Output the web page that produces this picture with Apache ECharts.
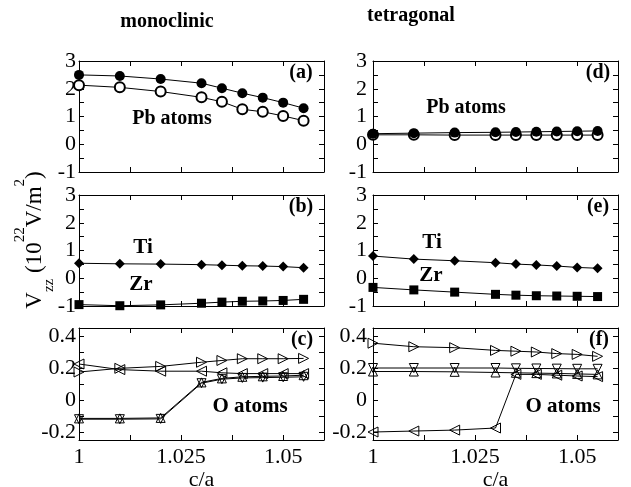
<!DOCTYPE html>
<html>
<head>
<meta charset="utf-8">
<script src="https://cdn.jsdelivr.net/npm/echarts@6.0.0/dist/echarts.min.js"></script>
<style>html,body{margin:0;padding:0;background:#fff}#chart{width:631px;height:487px}</style>
</head>
<body>
<div id="chart"></div>
<script>
const cOverA = [1, 1.01, 1.02, 1.03, 1.035, 1.04, 1.045, 1.05, 1.055];
const xTicks = [1, 1.0125, 1.025, 1.0375, 1.05];
const xTickLabels = [1, 1.025, 1.05];
const bigTicks = [-1, -0.5, 0, 0.5, 1, 1.5, 2, 2.5, 3];
const bigTickLabels = [-1, 0, 1, 2, 3];
const oTicks = [-0.2, -0.1, 0, 0.1, 0.2, 0.3, 0.4];
const oTickLabels = [-0.2, 0, 0.2, 0.4];

// (a) / (d) Pb
const pbMonoFilled = [2.5, 2.46, 2.35, 2.2, 2.02, 1.84, 1.68, 1.5, 1.3];
const pbMonoOpen = [2.13, 2.05, 1.9, 1.69, 1.53, 1.26, 1.17, 1.02, 0.85];
const pbTetFilled = [0.38, 0.4, 0.42, 0.43, 0.44, 0.45, 0.46, 0.47, 0.48];
const pbTetOpen = [0.34, 0.34, 0.33, 0.33, 0.33, 0.33, 0.33, 0.33, 0.33];
// (b) / (e) Ti, Zr
const tiMono = [0.54, 0.52, 0.51, 0.49, 0.47, 0.45, 0.44, 0.42, 0.38];
const zrMono = [-0.95, -0.99, -0.96, -0.9, -0.86, -0.83, -0.82, -0.8, -0.76];
const tiTet = [0.8, 0.69, 0.63, 0.56, 0.51, 0.48, 0.44, 0.39, 0.36];
const zrTet = [-0.33, -0.42, -0.5, -0.58, -0.61, -0.63, -0.64, -0.65, -0.66];
// (c) / (f) O
const oMonoRight = [0.175, 0.198, 0.21, 0.236, 0.247, 0.258, 0.258, 0.258, 0.26];
const oMonoLeft = [0.225, 0.19, 0.18, 0.18, 0.17, 0.165, 0.165, 0.165, 0.165];
const oMonoUp = [-0.115, -0.115, -0.112, 0.11, 0.135, 0.145, 0.148, 0.15, 0.155];
const oMonoDown = [-0.12, -0.12, -0.118, 0.105, 0.13, 0.138, 0.14, 0.142, 0.145];
const oTetRight = [0.355, 0.333, 0.327, 0.31, 0.305, 0.3, 0.29, 0.285, 0.273];
const oTetLeft = [-0.2, -0.194, -0.188, -0.175, 0.16, 0.16, 0.155, 0.15, 0.146];
const oTetUp = [0.178, 0.178, 0.176, 0.172, 0.17, 0.168, 0.166, 0.163, 0.16];
const oTetDown = [0.2, 0.2, 0.2, 0.2, 0.198, 0.197, 0.196, 0.195, 0.195];

const serif = '"Liberation Serif", "DejaVu Serif", serif';

// grid order: a, d, b, e, c, f
const cols = [79, 373];
const rows = [[61, 111], [195, 111], [328, 112]];
const grids = [];
rows.forEach(r => cols.forEach(c => grids.push({ left: c, top: r[0], width: 245, height: r[1], outerBoundsMode: 'none' })));

const black = { color: '#000', width: 1 };
const xAxes = [];
const yAxes = [];
grids.forEach((g, i) => {
  const bottomRow = i >= 4;
  const isO = i >= 4;
  const ymin = isO ? -0.25 : -1, ymax = isO ? 0.45 : 3;
  const yt = isO ? oTicks : bigTicks, yl = isO ? oTickLabels : bigTickLabels;
  ['bottom', 'top'].forEach((pos, k) => {
    xAxes.push({
      gridIndex: i, type: 'value', min: 1, max: 1.06, position: pos,
      axisLine: { onZero: false, lineStyle: black },
      axisTick: { inside: true, length: 5, customValues: xTicks, lineStyle: black },
      axisLabel: { show: k === 0 && bottomRow, customValues: xTickLabels, margin: 6,
        fontFamily: serif, fontSize: 22, color: '#000', formatter: v => String(v) },
      splitLine: { show: false },
      name: k === 0 && bottomRow ? 'c/a' : '', nameLocation: 'middle', nameGap: 23,
      nameTextStyle: { fontFamily: serif, fontSize: 22, color: '#000' }
    });
  });
  ['left', 'right'].forEach((pos, k) => {
    yAxes.push({
      gridIndex: i, type: 'value', min: ymin, max: ymax, position: pos,
      axisLine: { show: true, onZero: false, lineStyle: black },
      axisTick: { show: true, inside: true, length: 5, customValues: yt, lineStyle: black },
      axisLabel: { show: k === 0, customValues: yl, margin: i % 2 === 0 ? 3 : 6,
        fontFamily: serif, fontSize: 22, color: '#000' },
      splitLine: { show: false }
    });
  });
});

function line(gi, vals, symbol, size, opts) {
  const o = opts || {};
  return {
    type: 'line', xAxisIndex: gi * 2, yAxisIndex: gi * 2,
    data: cOverA.map((x, j) => [x, vals[j]]),
    symbol: symbol, symbolSize: size, symbolRotate: o.rotate || 0,
    itemStyle: o.itemStyle || { color: '#000' },
    lineStyle: { color: '#000', width: 1 },
    silent: true, animation: false, z: o.z || 2
  };
}
const hollow = { color: 'rgba(0,0,0,0)', borderColor: '#000', borderWidth: 1 };
const openCircle = { color: '#000', borderColor: '#000', borderWidth: 1 };

const series = [
  line(0, pbMonoOpen, 'emptyCircle', 10, { itemStyle: openCircle }),
  line(0, pbMonoFilled, 'circle', 10),
  line(1, pbTetOpen, 'emptyCircle', 10, { itemStyle: openCircle }),
  line(1, pbTetFilled, 'circle', 10, { z: 3 }),
  line(2, tiMono, 'diamond', 10),
  line(2, zrMono, 'rect', 9),
  line(3, tiTet, 'diamond', 10),
  line(3, zrTet, 'rect', 9),
  line(4, oMonoRight, 'triangle', 10, { rotate: -90, itemStyle: hollow }),
  line(4, oMonoLeft, 'triangle', 10, { rotate: 90, itemStyle: hollow }),
  line(4, oMonoUp, 'triangle', 9, { itemStyle: hollow }),
  line(4, oMonoDown, 'triangle', 9, { rotate: 180, itemStyle: hollow }),
  line(5, oTetRight, 'triangle', 10, { rotate: -90, itemStyle: hollow }),
  line(5, oTetLeft, 'triangle', 10, { rotate: 90, itemStyle: hollow }),
  line(5, oTetUp, 'triangle', 9, { itemStyle: hollow }),
  line(5, oTetDown, 'triangle', 9, { rotate: 180, itemStyle: hollow })
];

function txt(x, y, text, size, weight) {
  return { type: 'text', x: x, y: y, silent: true,
    style: { text: text, fontFamily: serif, fontSize: size, fontWeight: weight || 'bold',
      fill: '#000', align: 'center', verticalAlign: 'middle' } };
}

const graphic = [
  txt(167, 22, 'monoclinic', 20),
  txt(411, 16, 'tetragonal', 20),
  txt(301, 73, '(a)', 20), txt(598, 73, '(d)', 20),
  txt(301, 207, '(b)', 20), txt(598, 207, '(e)', 20),
  txt(302, 340, '(c)', 20), txt(599, 340, '(f)', 20),
  txt(172, 119, 'Pb atoms', 20), txt(466, 108, 'Pb atoms', 20),
  txt(143, 248, 'Ti', 21), txt(141, 285, 'Zr', 21),
  txt(432, 243, 'Ti', 21), txt(431, 276, 'Zr', 21),
  txt(250, 407, 'O atoms', 21), txt(563, 407, 'O atoms', 21),
  { type: 'text', x: 35, y: 240, rotation: Math.PI / 2, silent: true,
    style: {
      text: '{m|V}{sub|zz}{m| (10}{sup|22}{m|V/m}{sup|2}{m|)}',
      align: 'center', verticalAlign: 'middle', fill: '#000',
      rich: {
        m: { fontFamily: serif, fontSize: 23, lineHeight: 44, verticalAlign: 'middle', fill: '#000' },
        sub: { fontFamily: serif, fontSize: 15, lineHeight: 33, verticalAlign: 'bottom', fill: '#000' },
        sup: { fontFamily: serif, fontSize: 15, lineHeight: 16, verticalAlign: 'top', fill: '#000' }
      }
    } }
];

const chart = echarts.init(document.getElementById('chart'));
chart.setOption({
  backgroundColor: '#fff',
  animation: false,
  grid: grids,
  xAxis: xAxes,
  yAxis: yAxes,
  series: series,
  graphic: graphic
});
</script>
</body>
</html>
